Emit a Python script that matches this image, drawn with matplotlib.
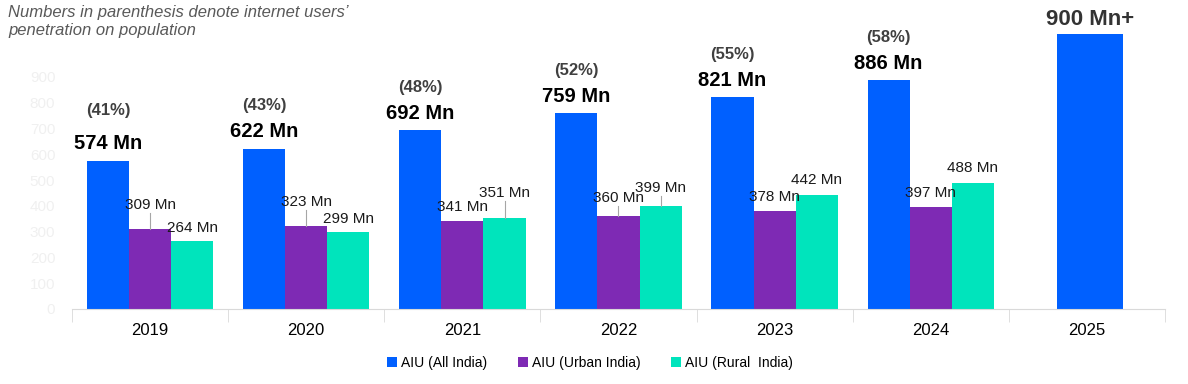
import matplotlib.pyplot as plt
import numpy as np

plt.rcParams['font.family'] = ['Liberation Sans', 'DejaVu Sans']

years = ['2019', '2020', '2021', '2022', '2023', '2024', '2025']
all_india = [574, 622, 692, 759, 821, 886, 1065]   # 2025 bar drawn taller, labelled 900 Mn+
urban = [309, 323, 341, 360, 378, 397]
rural = [264, 299, 351, 399, 442, 488]
all_labels = ['574 Mn', '622 Mn', '692 Mn', '759 Mn', '821 Mn', '886 Mn', '900 Mn+']
penetration = ['(41%)', '(43%)', '(48%)', '(52%)', '(55%)', '(58%)']

# label offsets above bar top (px)
urban_off = [24, 24, 14, 18, 14, 14]
rural_off = [13, 13, 25, 18, 15, 15]

c_all = '#0060FF'
c_urb = '#7E2AB4'
c_rur = '#00E4BC'

fig = plt.figure(figsize=(11.88, 3.84), dpi=100)
ax = fig.add_axes([72 / 1188, 1 - 309 / 384, (1165 - 72) / 1188, 289 / 384])

x = np.arange(len(years))
w = 0.27
px = 1 / 0.258  # data units per pixel

ax.bar(x[:6] - w, all_india[:6], w, color=c_all, label='AIU (All India)')
ax.bar(x[6] + 0.02, all_india[6], 0.42, color=c_all)
ax.bar(x[:6], urban, w, color=c_urb, label='AIU (Urban India)')
ax.bar(x[:6] + w, rural, w, color=c_rur, label='AIU (Rural  India)')

for i in range(6):
    v = all_india[i]
    ax.text(x[i] - w, v + 17 * px, all_labels[i], ha='center', va='center',
            fontsize=14.5, fontweight='bold', color='black')
    off = 50 if i == 0 else 43
    ax.text(x[i] - w, v + off * px, penetration[i], ha='center', va='center',
            fontsize=12, fontweight='bold', color='#404040')
    for xs, vals, offs in ((x[i], urban, urban_off), (x[i] + w, rural, rural_off)):
        y = vals[i] + offs[i] * px
        ax.text(xs, y, f'{vals[i]} Mn', ha='center', va='center', fontsize=11, color='#1a1a1a')
        if offs[i] > 17:
            ax.plot([xs, xs], [vals[i], y - 8 * px], color='#a6a6a6', lw=0.8)

ax.text(x[6] + 0.02, all_india[6] + 15 * px, all_labels[6], ha='center', va='center',
        fontsize=16, fontweight='bold', color='#333333')

ax.set_xlim(-0.5, 6.5)
ax.set_ylim(0, 289 * px)
ax.set_yticks(range(0, 1000, 100))
ax.tick_params(axis='y', length=0, labelcolor='#f0f0f0', labelsize=11, pad=12)
ax.set_xticks(x)
ax.set_xticklabels(years, fontsize=12)
ax.set_xticks(np.arange(-0.5, 7, 1), minor=True)
ax.tick_params(axis='x', which='major', length=0, pad=10)
ax.tick_params(axis='x', which='minor', length=9, color='#d9d9d9')
for s in ['top', 'right', 'left']:
    ax.spines[s].set_visible(False)
ax.spines['bottom'].set_color('#d9d9d9')

fig.text(8 / 1188, 1 - 5 / 384, "Numbers in parenthesis denote internet users’\npenetration on population",
         ha='left', va='top', fontsize=12, style='italic', color='#595959', linespacing=1.25)

fig.legend(loc='center', bbox_to_anchor=(590 / 1188, 1 - 363 / 384), ncol=3, frameon=False,
           fontsize=10, handlelength=0.7, handleheight=0.7, handletextpad=0.3, columnspacing=2.2)

fig.savefig('out.png', dpi=100)
